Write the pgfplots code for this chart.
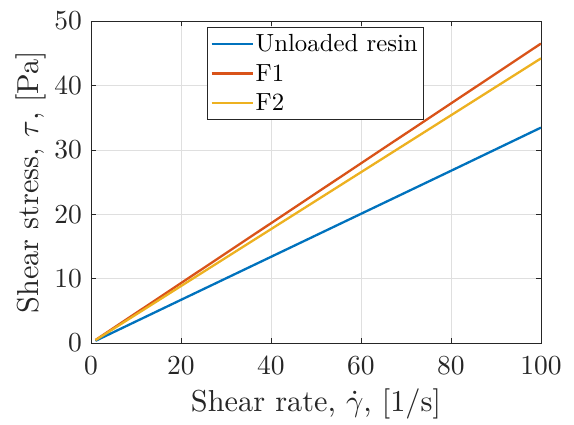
\documentclass[border=0pt]{standalone}
\usepackage{pgfplots}
\pgfplotsset{compat=1.18}
\definecolor{mblue}{rgb}{0,0.447,0.741}
\definecolor{morange}{rgb}{0.850,0.325,0.098}
\definecolor{myellow}{rgb}{0.929,0.694,0.125}
\definecolor{axgray}{rgb}{0.15,0.15,0.15}
% text is set at the 10pt design size and enlarged, so it keeps the weight of cmr10
\newcommand{\enl}[2]{\scalebox{#1}{#2}}
\begin{document}
\begin{tikzpicture}
\path[use as bounding box] (-91pt,-81pt) rectangle (483pt,343pt);
\begin{axis}[
  at={(0,0)}, anchor=south west,
  scale only axis, width=450pt, height=322pt,
  xmin=0, xmax=100, ymin=0, ymax=50,
  xtick={0,20,...,100}, ytick={0,10,...,50},
  tick align=inside, tick pos=both,
  major tick length=5pt,
  axis line style={axgray, line width=0.6pt},
  every tick/.style={axgray, line width=0.6pt},
  grid=major,
  major grid style={gray!25, line width=0.6pt},
  font=\fontsize{10}{12}\selectfont,
  xticklabel={\enl{2.75}{$\pgfmathprintnumber{\tick}$}},
  yticklabel={\enl{2.75}{$\pgfmathprintnumber{\tick}$}},
  tick label style={text=axgray, inner sep=0pt},
  xticklabel style={yshift=-14pt},
  yticklabel style={xshift=-9pt},
  label style={text=axgray},
  xlabel={\enl{3.03}{Shear rate, $\dot{\gamma}$, [1/s]}},
  ylabel={\enl{3.03}{Shear stress, $\tau$, [Pa]}},
  xlabel style={yshift=-10pt},
  ylabel style={yshift=5pt},
  legend style={
    at={(0.258,0.980)}, anchor=north west,
    draw=axgray, line width=0.6pt,
    row sep=7pt, inner xsep=3pt, inner ysep=5pt,
    legend cell align=left
  },
  legend image code/.code={\draw[#1, line width=2.3pt] (0pt,0pt) -- (41pt,0pt);},
]
\addplot[mblue, line width=2.3pt] coordinates {
  (1,0.34) (20,6.70) (40,13.38) (60,20.06) (80,26.74) (100,33.45)
};
\addlegendentry{\enl{2.48}{Unloaded resin}}
\addplot[morange, line width=2.3pt] coordinates {
  (1,0.47) (20,9.30) (40,18.60) (60,27.90) (80,37.20) (100,46.50)
};
\addlegendentry{\enl{2.48}{F1}}
\addplot[myellow, line width=2.3pt] coordinates {
  (1,0.44) (20,8.84) (40,17.68) (60,26.52) (80,35.36) (100,44.20)
};
\addlegendentry{\enl{2.48}{F2}}
\end{axis}
\end{tikzpicture}
\end{document}
